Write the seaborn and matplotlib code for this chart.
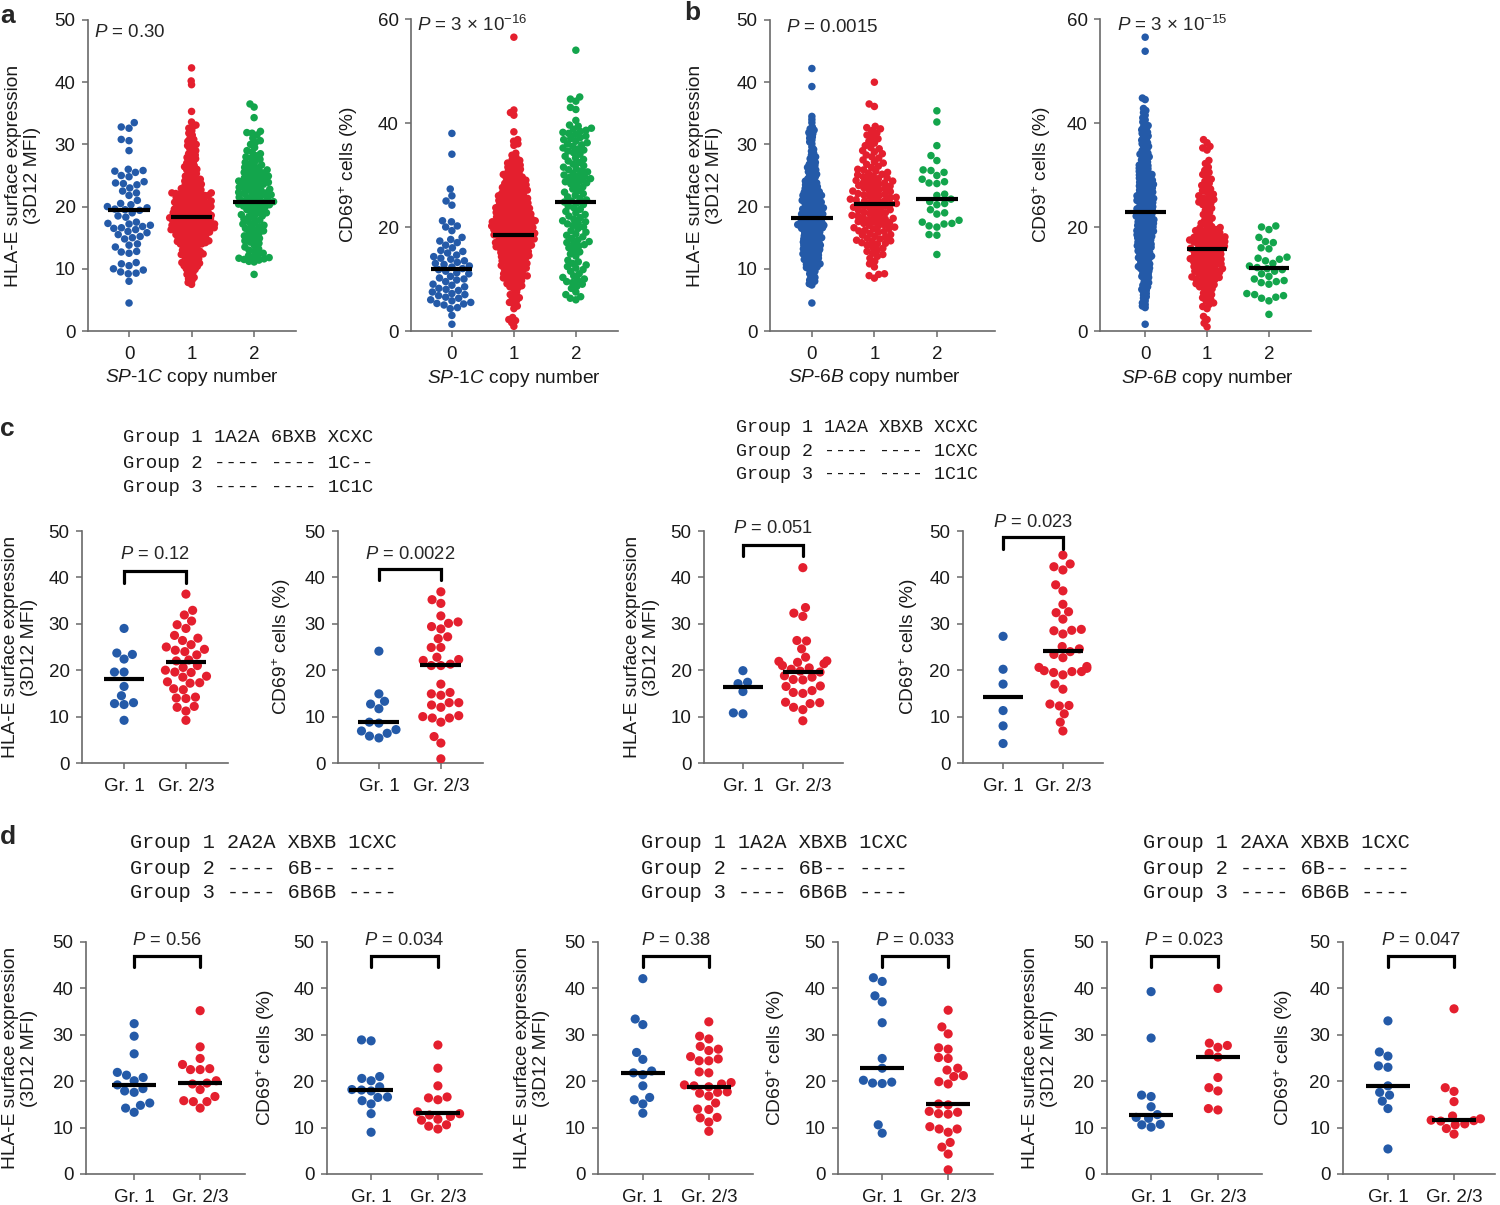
#!/usr/bin/env python3
"""HLA-E surface expression and CD69+ cells by SP copy number and allele group."""

import matplotlib

matplotlib.use("Agg")
import matplotlib.pyplot as plt
import matplotlib.transforms as mtransforms
import numpy as np
import pandas as pd
import seaborn as sns


FIG_W, FIG_H = 1500, 1205
BLUE = "#245aa8"
RED = "#e41f2e"
GREEN = "#13a54c"
AXIS_GREY = "#6a6a6a"

HLA_LABEL = "HLA-E surface expression\n(3D12 MFI)"
CD69_LABEL = "CD69$^{+}$ cells (%)"
COPY_TICKS = ["0", "1", "2"]
GROUP_TICKS = ["Gr. 1", "Gr. 2/3"]

# ---------------- panel a : SP-1C copy number ----------------
A_HLA_0 = [33.5, 32.8, 32.6, 30.8, 30.6, 29.0, 26.0, 25.8, 25.7, 25.5, 25.0, 24.8, 24.0, 23.8,
           23.7, 23.5, 23.0, 22.5, 22.2, 21.8, 21.0, 20.5, 20.3, 20.0, 19.8, 19.6, 19.5, 19.4,
           19.0, 18.5, 18.3, 17.5, 17.3, 17.2, 17.0, 16.8, 16.6, 16.5, 16.3, 16.0, 15.8, 15.5,
           15.2, 15.0, 14.8, 14.0, 13.8, 13.5, 12.8, 12.7, 12.5, 11.0, 10.8, 10.5, 10.0, 9.8,
           9.5, 9.3, 9.2, 8.0, 4.5]
A_HLA_1 = [42.3, 40.2, 39.6, 35.3, 33.6, 33.1, 32.8, 32.6, 32.2, 31.8, 31.5, 31.0, 30.8, 30.5,
           30.3, 30.0, 29.8, 29.6, 29.3, 29.0, 28.8, 28.5, 28.3, 28.1, 27.9, 27.7, 27.5, 27.2,
           27.0, 26.8, 26.6, 26.4, 26.2, 26.0, 25.9, 25.7, 25.5, 25.3, 25.1, 24.9, 24.8, 24.6,
           24.4, 24.3, 24.1, 24.0, 23.9, 23.8, 23.6, 23.5, 23.4, 23.2, 23.1, 23.0, 22.9, 22.8,
           22.7, 22.6, 22.5, 22.4, 22.3, 22.2, 22.2, 22.1, 22.0, 22.0, 21.9, 21.9, 21.8, 21.8,
           21.7, 21.6, 21.5, 21.4, 21.3, 21.2, 21.1, 21.0, 20.9, 20.9, 20.8, 20.7, 20.6, 20.6,
           20.5, 20.4, 20.4, 20.3, 20.2, 20.2, 20.1, 20.0, 20.0, 20.8, 21.5, 21.1, 19.9, 19.9,
           19.8, 19.7, 19.7, 19.6, 19.5, 19.4, 19.4, 19.3, 19.2, 19.1, 19.0, 19.0, 18.9, 18.8,
           18.8, 18.7, 18.6, 18.6, 18.5, 18.4, 18.4, 18.3, 18.2, 18.2, 18.1, 18.0, 18.0, 19.5,
           19.2, 18.9, 18.5, 18.3, 18.1, 17.9, 17.9, 17.8, 17.8, 17.7, 17.6, 17.6, 17.5, 17.4,
           17.4, 17.3, 17.2, 17.2, 17.1, 17.0, 17.0, 16.9, 16.9, 16.8, 16.7, 16.7, 16.6, 16.5,
           16.5, 16.4, 16.3, 16.3, 16.2, 16.1, 16.1, 16.0, 16.0, 17.5, 17.1, 16.8, 16.6, 16.4,
           16.2, 15.9, 15.8, 15.8, 15.7, 15.6, 15.5, 15.5, 15.4, 15.3, 15.2, 15.1, 15.0, 15.0,
           14.9, 14.8, 14.7, 14.6, 14.5, 14.5, 14.4, 14.3, 14.2, 14.1, 14.0, 14.0, 15.6, 15.2,
           14.8, 14.4, 14.2, 13.9, 13.8, 13.6, 13.5, 13.3, 13.2, 13.0, 12.9, 12.8, 12.6, 12.5,
           12.4, 12.3, 12.2, 12.1, 12.0, 13.7, 13.1, 12.7, 12.3, 11.9, 11.7, 11.5, 11.3, 11.1,
           11.0, 10.8, 10.7, 10.5, 10.4, 10.2, 10.0, 11.6, 10.9, 9.9, 9.6, 9.4, 9.1, 8.9, 8.6,
           8.4, 8.1, 7.8, 7.5]
A_HLA_2 = [36.5, 36.0, 34.3, 32.1, 31.9, 31.8, 31.5, 31.0, 30.6, 30.3, 30.0, 29.5, 29.0, 28.8,
           28.5, 28.2, 28.0, 27.8, 27.6, 27.3, 27.1, 26.9, 26.7, 26.5, 26.3, 26.1, 26.0, 25.9,
           25.7, 25.5, 25.4, 25.2, 25.0, 24.9, 24.8, 24.6, 24.5, 24.3, 24.2, 24.1, 24.0, 23.9,
           23.8, 23.6, 23.5, 23.4, 23.2, 23.1, 23.0, 22.8, 22.7, 22.6, 22.5, 22.3, 22.2, 22.1,
           22.0, 21.9, 21.8, 21.7, 21.5, 21.4, 21.3, 21.2, 21.0, 20.9, 20.8, 20.7, 20.6, 20.5,
           20.4, 20.3, 20.2, 20.1, 20.0, 19.9, 19.7, 19.5, 19.4, 19.2, 19.0, 18.9, 18.7, 18.5,
           18.4, 18.2, 18.0, 17.8, 17.6, 17.4, 17.2, 17.0, 16.9, 16.7, 16.5, 16.3, 16.1, 15.9,
           15.7, 15.5, 15.3, 15.1, 14.9, 14.7, 14.5, 14.3, 14.1, 13.8, 13.5, 13.2, 13.0, 12.8,
           12.5, 12.3, 12.1, 11.9, 11.8, 11.7, 11.6, 11.5, 11.4, 11.2, 11.1, 9.1]
A_HLA_CENTERS = [19.5, 18.4, 20.7]

A_CD69_0 = [38.0, 34.0, 27.3, 26.0, 25.0, 24.2, 21.2, 21.0, 20.2, 20.0, 19.3, 18.0, 17.6, 17.3,
            17.0, 16.5, 16.0, 15.5, 15.3, 15.0, 14.6, 14.3, 14.0, 13.8, 13.5, 13.2, 13.0, 12.8,
            12.5, 12.3, 12.0, 11.8, 11.5, 11.2, 11.0, 10.5, 10.2, 10.0, 9.8, 9.5, 9.0, 8.8,
            8.5, 8.2, 8.0, 7.8, 7.5, 7.2, 7.0, 6.8, 6.5, 6.3, 6.0, 5.8, 5.5, 5.3, 5.2, 5.0,
            4.5, 4.3, 3.0, 1.3]
A_CD69_1 = [56.5, 42.5, 42.0, 41.5, 38.3, 36.8, 36.5, 36.0, 35.7, 34.2, 33.8, 33.4, 33.0, 32.8,
            32.5, 32.3, 32.1, 31.9, 31.7, 31.5, 31.3, 31.1, 30.9, 30.7, 30.5, 30.3, 30.1, 29.9,
            29.8, 29.6, 29.5, 29.3, 29.2, 29.0, 28.9, 28.7, 28.6, 28.4, 28.3, 28.1, 28.0, 27.9,
            27.8, 27.6, 27.5, 27.4, 27.2, 27.1, 27.0, 26.9, 26.7, 26.6, 26.5, 26.4, 26.2, 26.1,
            26.0, 25.9, 25.8, 25.7, 25.6, 25.5, 25.4, 25.3, 25.2, 25.1, 25.0, 24.9, 24.8, 24.7,
            24.6, 24.5, 24.4, 24.3, 24.2, 24.1, 24.0, 23.9, 23.8, 23.7, 23.6, 23.5, 23.4, 23.3,
            23.2, 23.1, 23.0, 22.9, 22.8, 22.7, 22.6, 22.5, 22.4, 22.3, 22.2, 22.1, 22.0, 23.5,
            22.5, 21.9, 21.85, 21.8, 21.7, 21.6, 21.5, 21.4, 21.3, 21.2, 21.1, 21.0, 20.95, 20.9,
            20.8, 20.7, 20.6, 20.5, 20.4, 20.3, 20.2, 20.1, 20.0, 21.5, 21.0, 20.5, 20.2, 19.9,
            19.8, 19.7, 19.6, 19.5, 19.4, 19.3, 19.2, 19.1, 19.0, 18.9, 18.8, 18.7, 18.6, 18.5,
            18.4, 18.3, 18.2, 18.1, 18.0, 19.5, 19.0, 18.5, 18.2, 19.8, 18.8, 17.9, 17.8, 17.7,
            17.6, 17.5, 17.4, 17.3, 17.2, 17.1, 17.0, 16.9, 16.8, 16.7, 16.6, 16.5, 16.4, 16.3,
            16.2, 16.1, 16.0, 17.5, 17.0, 16.5, 16.2, 15.9, 15.8, 15.7, 15.6, 15.5, 15.4, 15.3,
            15.2, 15.1, 15.0, 14.9, 14.8, 14.7, 14.6, 14.5, 14.4, 14.3, 14.2, 14.1, 14.0, 13.9,
            13.8, 13.6, 13.5, 13.4, 13.2, 13.1, 13.0, 12.9, 12.8, 12.6, 12.5, 12.4, 12.2, 12.1,
            12.0, 11.9, 11.7, 11.6, 11.4, 11.2, 11.0, 10.9, 10.8, 10.6, 10.5, 10.4, 10.3, 10.2,
            10.0, 9.9, 9.7, 9.5, 9.3, 9.1, 8.9, 8.7, 8.5, 8.3, 8.1, 7.5, 7.0, 6.8, 6.4, 6.1,
            5.8, 5.5, 5.2, 4.8, 4.3, 2.6, 2.2, 2.0, 1.6, 0.9]
A_CD69_2 = [54.0, 45.0, 44.6, 44.2, 43.0, 42.6, 40.5, 39.6, 39.4, 39.0, 38.8, 38.6, 38.4, 38.2,
            38.0, 37.8, 37.5, 37.2, 37.0, 36.8, 36.5, 36.2, 36.0, 35.8, 35.5, 35.2, 35.0, 34.8,
            34.6, 34.3, 34.0, 33.6, 33.3, 33.0, 32.7, 32.4, 32.1, 31.8, 31.5, 31.2, 31.0, 30.8,
            30.6, 30.3, 30.0, 29.9, 29.7, 29.5, 29.3, 29.1, 28.9, 28.7, 28.5, 28.3, 28.1, 27.7,
            27.3, 27.0, 26.7, 26.4, 26.1, 25.8, 25.5, 25.2, 25.0, 24.8, 24.6, 24.3, 24.0, 23.7,
            23.4, 23.0, 22.7, 22.4, 22.1, 21.8, 21.5, 21.2, 21.0, 20.8, 20.6, 20.3, 20.0, 19.7,
            19.3, 19.0, 18.7, 18.4, 18.1, 17.8, 17.5, 17.2, 17.0, 16.8, 16.6, 16.3, 16.0, 15.6,
            15.2, 14.8, 14.4, 13.6, 13.3, 13.0, 12.7, 12.4, 12.1, 11.8, 11.5, 11.0, 10.6, 10.3,
            10.0, 9.8, 9.5, 9.3, 9.0, 8.6, 8.2, 7.5, 7.0, 6.6, 6.3, 6.0]
A_CD69_CENTERS = [11.9, 18.5, 24.8]

# ---------------- panel b : SP-6B copy number ----------------
B_HLA_0 = [42.2, 39.3, 34.5, 34.0, 33.5, 32.8, 32.5, 32.3, 32.1, 31.9, 31.7, 31.5, 31.2, 31.0,
           30.7, 30.4, 30.1, 29.6, 29.2, 28.9, 28.6, 28.3, 28.0, 27.9, 27.7, 27.5, 27.3, 27.1,
           26.9, 26.8, 26.6, 26.5, 26.3, 26.2, 26.0, 25.9, 25.8, 25.6, 25.5, 25.4, 25.2, 25.1,
           25.0, 24.8, 24.7, 24.5, 24.4, 24.3, 24.1, 24.0, 23.9, 23.8, 23.7, 23.6, 23.5, 23.4,
           23.3, 23.2, 23.1, 23.0, 22.9, 22.8, 22.7, 22.6, 22.5, 22.4, 22.3, 22.2, 22.1, 22.0,
           22.5, 22.2, 21.9, 21.8, 21.7, 21.6, 21.5, 21.4, 21.3, 21.2, 21.1, 21.0, 20.9, 20.8,
           20.7, 20.6, 20.5, 20.4, 20.3, 20.2, 20.1, 20.0, 21.5, 21.0, 20.5, 20.2, 21.8, 20.8,
           19.9, 19.8, 19.7, 19.6, 19.5, 19.4, 19.3, 19.2, 19.1, 19.0, 18.9, 18.8, 18.7, 18.6,
           18.5, 18.4, 18.3, 18.2, 18.1, 18.0, 19.8, 19.5, 19.2, 19.0, 18.8, 18.5, 18.3, 18.1,
           19.6, 18.6, 17.9, 17.8, 17.7, 17.6, 17.5, 17.4, 17.3, 17.2, 17.1, 17.0, 16.9, 16.8,
           16.7, 16.6, 16.5, 16.4, 16.3, 16.2, 16.1, 16.0, 17.9, 17.6, 17.3, 17.0, 16.8, 16.5,
           16.2, 17.8, 17.4, 17.1, 16.9, 16.6, 16.3, 17.2, 16.7, 15.9, 15.8, 15.7, 15.6, 15.5,
           15.4, 15.3, 15.2, 15.1, 15.0, 14.9, 14.8, 14.7, 14.6, 14.5, 14.4, 14.3, 14.2, 14.1,
           14.0, 15.8, 15.5, 15.2, 15.0, 14.8, 14.5, 14.2, 14.0, 13.9, 13.8, 13.7, 13.6, 13.5,
           13.4, 13.3, 13.2, 13.1, 13.0, 12.9, 12.8, 12.7, 12.6, 12.5, 12.4, 12.3, 12.2, 12.1,
           12.0, 13.5, 13.0, 12.5, 12.2, 13.8, 11.9, 11.8, 11.7, 11.6, 11.5, 11.4, 11.3, 11.2,
           11.1, 11.0, 10.9, 10.8, 10.7, 10.6, 10.5, 10.4, 10.3, 10.2, 10.1, 10.0, 11.5, 10.8,
           9.9, 9.6, 9.4, 9.2, 9.0, 8.8, 8.6, 8.4, 8.2, 8.0, 7.9, 7.6, 7.4, 4.5]
B_HLA_1 = [40.0, 36.5, 36.1, 32.9, 32.7, 32.5, 32.2, 31.8, 31.5, 31.2, 30.9, 30.5, 30.2, 29.8,
           29.5, 29.3, 29.0, 28.8, 28.5, 28.3, 28.0, 27.8, 27.5, 27.2, 27.0, 26.8, 26.5, 26.3,
           26.0, 25.9, 25.7, 25.5, 25.4, 25.2, 25.1, 24.9, 24.8, 24.6, 24.5, 24.4, 24.2, 24.1,
           24.0, 23.9, 23.8, 23.6, 23.5, 23.4, 23.3, 23.1, 23.0, 22.9, 22.7, 22.6, 22.5, 22.4,
           22.2, 22.1, 22.0, 21.9, 21.8, 21.7, 21.5, 21.4, 21.3, 21.2, 21.1, 21.0, 20.9, 20.8,
           20.7, 20.5, 20.4, 20.3, 20.2, 20.1, 20.0, 19.9, 19.8, 19.6, 19.5, 19.4, 19.3, 19.1,
           19.0, 18.9, 18.7, 18.6, 18.5, 18.4, 18.2, 18.1, 18.0, 17.9, 17.8, 17.6, 17.5, 17.4,
           17.3, 17.1, 17.0, 16.9, 16.7, 16.6, 16.5, 16.4, 16.2, 16.1, 16.0, 15.9, 15.7, 15.5,
           15.4, 15.2, 15.1, 14.9, 14.8, 14.6, 14.5, 14.4, 14.2, 14.1, 14.0, 13.8, 13.5, 13.3,
           13.0, 12.8, 12.5, 12.3, 12.0, 11.7, 11.2, 10.8, 10.3, 9.2, 9.1, 8.9, 8.5]
B_HLA_2 = [35.4, 33.6, 29.8, 28.2, 27.4, 25.9, 25.8, 25.5, 25.0, 24.4, 24.0, 23.8, 23.7, 22.0,
           21.8, 21.2, 20.8, 20.5, 20.3, 19.5, 19.0, 18.8, 17.8, 17.5, 17.3, 17.2, 16.9, 16.7,
           15.5, 15.4, 12.3]
B_HLA_CENTERS = [18.1, 20.4, 21.2]

B_CD69_0 = [56.5, 53.8, 44.8, 44.5, 42.8, 42.4, 42.0, 41.5, 41.0, 40.6, 40.2, 39.8, 39.5, 39.2,
            39.0, 38.7, 38.5, 38.2, 38.0, 37.8, 37.5, 37.2, 37.0, 36.7, 36.5, 36.2, 36.0, 35.8,
            35.5, 35.2, 35.0, 34.7, 34.5, 34.2, 34.0, 33.9, 33.7, 33.5, 33.3, 33.1, 32.9, 32.7,
            32.5, 32.3, 32.1, 31.9, 31.8, 31.6, 31.5, 31.3, 31.2, 31.0, 30.9, 30.7, 30.6, 30.4,
            30.3, 30.1, 30.0, 29.9, 29.8, 29.6, 29.5, 29.4, 29.2, 29.1, 29.0, 28.9, 28.7, 28.6,
            28.5, 28.4, 28.2, 28.1, 28.0, 27.9, 27.8, 27.6, 27.5, 27.4, 27.2, 27.1, 27.0, 26.9,
            26.7, 26.6, 26.5, 26.4, 26.2, 26.1, 26.0, 25.9, 25.8, 25.7, 25.6, 25.5, 25.4, 25.3,
            25.2, 25.1, 25.0, 24.9, 24.8, 24.7, 24.5, 24.4, 24.3, 24.2, 24.0, 23.9, 23.8, 23.7,
            23.6, 23.5, 23.4, 23.3, 23.2, 23.1, 23.0, 22.9, 22.8, 22.7, 22.6, 22.5, 22.4, 22.3,
            22.2, 22.1, 22.0, 21.9, 21.8, 21.7, 21.6, 21.5, 21.4, 21.3, 21.2, 21.1, 21.0, 20.9,
            20.8, 20.7, 20.6, 20.5, 20.4, 20.3, 20.2, 20.1, 20.0, 19.9, 19.8, 19.7, 19.5, 19.4,
            19.3, 19.2, 19.1, 19.0, 18.9, 18.8, 18.7, 18.5, 18.4, 18.3, 18.2, 18.1, 18.0, 17.9,
            17.8, 17.6, 17.5, 17.4, 17.2, 17.1, 17.0, 16.9, 16.7, 16.6, 16.5, 16.4, 16.2, 16.1,
            16.0, 15.9, 15.7, 15.6, 15.4, 15.3, 15.1, 15.0, 14.9, 14.7, 14.6, 14.4, 14.3, 14.1,
            14.0, 13.9, 13.7, 13.5, 13.3, 13.1, 12.9, 12.8, 12.6, 12.4, 12.3, 12.1, 12.0, 11.9,
            11.7, 11.5, 11.3, 11.1, 10.9, 10.7, 10.5, 10.3, 10.1, 9.8, 9.5, 9.3, 9.0, 8.8, 8.5,
            8.3, 8.0, 7.8, 7.5, 7.2, 6.9, 6.6, 6.3, 5.8, 5.4, 5.1, 4.8, 4.5, 1.3]
B_CD69_1 = [36.8, 36.2, 35.5, 35.2, 34.8, 32.8, 32.2, 31.5, 30.9, 30.5, 30.1, 29.7, 29.2, 28.8,
            28.4, 28.0, 27.7, 27.3, 27.0, 26.7, 26.3, 26.0, 25.9, 25.6, 25.3, 25.1, 24.8, 24.6,
            24.3, 24.0, 23.6, 23.2, 22.8, 22.4, 22.0, 21.7, 21.3, 21.0, 20.7, 20.4, 20.1, 19.9,
            19.8, 19.6, 19.5, 19.3, 19.2, 19.0, 18.9, 18.7, 18.6, 18.4, 18.3, 18.1, 18.0, 17.9,
            17.8, 17.7, 17.6, 17.5, 17.4, 17.3, 17.2, 17.1, 17.0, 16.9, 16.8, 16.7, 16.5, 16.4,
            16.3, 16.1, 16.0, 15.9, 15.8, 15.7, 15.6, 15.5, 15.3, 15.2, 15.1, 14.9, 14.8, 14.7,
            14.5, 14.4, 14.3, 14.1, 14.0, 13.9, 13.8, 13.7, 13.6, 13.4, 13.3, 13.2, 13.1, 12.9,
            12.8, 12.7, 12.5, 12.4, 12.3, 12.1, 12.0, 11.9, 11.8, 11.6, 11.5, 11.3, 11.2, 11.0,
            10.9, 10.7, 10.6, 10.4, 10.3, 10.1, 10.0, 9.9, 9.7, 9.5, 9.3, 9.1, 8.9, 8.7, 8.5,
            8.3, 8.1, 7.7, 7.3, 7.0, 6.7, 6.4, 6.1, 5.8, 5.4, 5.1, 4.7, 4.3, 2.8, 2.2, 1.5, 0.8]
B_CD69_2 = [20.2, 20.0, 19.5, 18.0, 17.2, 17.0, 16.0, 15.8, 14.2, 14.0, 13.8, 13.5, 13.0, 12.5,
            12.2, 12.0, 11.8, 11.5, 11.0, 10.5, 10.0, 9.7, 9.5, 9.3, 9.0, 7.2, 7.0, 6.8, 6.5,
            6.3, 5.8, 3.2]
B_CD69_CENTERS = [22.9, 15.7, 12.2]

# ---------------- panel c ----------------
C1_HLA_G1 = [29.0, 23.7, 23.4, 22.4, 19.6, 19.6, 16.5, 14.5, 13.0, 12.6, 12.8, 9.2]
C1_HLA_G23 = [36.4, 32.9, 31.9, 30.6, 29.8, 29.0, 27.5, 26.9, 26.4, 25.5, 25.0, 24.5, 24.3,
              24.0, 23.3, 22.2, 22.0, 21.0, 20.6, 20.0, 19.6, 19.5, 18.7, 18.5, 17.5, 17.3,
              17.2, 16.0, 15.8, 14.2, 14.0, 13.9, 12.2, 12.0, 11.2, 9.2]
C1_HLA_CENTERS = [18.0, 21.8]
C1_CD69_G1 = [24.1, 14.9, 13.3, 12.7, 11.7, 8.8, 8.6, 7.2, 6.9, 6.4, 5.8, 5.4]
C1_CD69_G23 = [36.9, 35.2, 34.4, 31.7, 30.4, 30.1, 29.4, 28.9, 27.2, 26.8, 24.9, 24.9, 22.8,
               22.3, 22.1, 21.3, 21.0, 21.0, 17.0, 15.2, 14.9, 14.6, 13.0, 13.0, 12.5, 12.0,
               10.2, 10.0, 9.7, 9.7, 8.8, 5.7, 4.3, 0.9]
C1_CD69_CENTERS = [8.8, 21.1]

C2_HLA_G1 = [19.9, 17.4, 17.1, 15.4, 10.6, 10.8]
C2_HLA_G23 = [42.1, 33.5, 32.3, 31.6, 26.4, 26.3, 24.6, 22.8, 22.0, 21.9, 21.7, 21.4, 21.0,
              20.5, 20.2, 19.8, 19.6, 18.8, 18.5, 18.0, 17.9, 16.6, 16.5, 15.6, 15.2, 15.0,
              13.1, 13.0, 12.8, 12.0, 11.5, 9.1]
C2_HLA_CENTERS = [16.3, 19.7]
C2_CD69_G1 = [27.3, 20.2, 17.0, 11.3, 8.0, 4.2]
C2_CD69_G23 = [44.8, 42.9, 42.3, 41.6, 38.4, 37.1, 34.2, 32.6, 32.4, 31.0, 28.8, 28.6, 28.5,
               27.8, 25.1, 24.6, 24.0, 23.4, 22.7, 20.8, 20.6, 20.4, 19.9, 19.7, 19.7, 19.5,
               19.0, 17.0, 15.9, 12.7, 12.4, 12.3, 10.6, 8.8, 6.9]
C2_CD69_CENTERS = [14.2, 24.1]

# ---------------- panel d ----------------
D1_HLA_G1 = [32.4, 29.7, 25.9, 21.9, 21.3, 20.8, 20.1, 19.2, 18.4, 17.9, 17.6, 15.3, 14.8,
             14.2, 13.3]
D1_HLA_G23 = [35.2, 27.4, 24.9, 23.6, 22.7, 22.5, 22.5, 20.1, 19.6, 19.4, 18.2, 16.7, 15.8,
              15.6, 15.6, 14.2]
D1_HLA_CENTERS = [19.2, 19.7]
D1_CD69_G1 = [28.9, 28.7, 21.0, 20.6, 20.1, 18.8, 18.2, 18.1, 17.9, 16.5, 16.6, 15.8, 15.1,
              13.0, 9.0]
D1_CD69_G23 = [27.8, 22.8, 19.0, 16.6, 16.4, 16.0, 13.4, 13.0, 12.7, 12.4, 11.8, 11.6, 10.6,
               10.3, 9.7]
D1_CD69_CENTERS = [18.0, 13.1]

D2_HLA_G1 = [42.1, 33.4, 32.2, 26.2, 24.7, 22.2, 21.8, 21.4, 19.0, 16.5, 16.0, 15.1, 13.1]
D2_HLA_G23 = [32.8, 29.7, 29.1, 27.5, 26.9, 26.6, 25.3, 24.8, 24.4, 24.4, 22.0, 21.8, 19.7,
              19.4, 19.2, 19.0, 18.8, 17.7, 17.6, 17.4, 16.8, 15.3, 14.0, 13.9, 12.2, 12.1,
              11.2, 9.2]
D2_HLA_CENTERS = [21.7, 18.8]
D2_CD69_G1 = [42.3, 41.5, 38.4, 37.1, 32.6, 24.9, 22.8, 20.2, 19.8, 19.6, 19.5, 10.6, 8.8]
D2_CD69_G23 = [35.3, 31.7, 30.2, 27.2, 26.9, 25.1, 24.9, 22.8, 22.4, 21.2, 21.0, 19.9, 19.4,
               15.1, 14.9, 13.5, 13.3, 13.0, 12.9, 10.2, 9.7, 9.7, 9.0, 6.8, 5.8, 4.3, 0.9]
D2_CD69_CENTERS = [22.8, 15.0]

D3_HLA_G1 = [39.3, 29.3, 17.0, 16.7, 14.5, 12.8, 12.2, 12.0, 10.7, 10.6, 10.1]
D3_HLA_G23 = [40.0, 28.2, 27.7, 27.3, 26.0, 25.2, 20.8, 18.6, 17.9, 14.1, 13.8]
D3_HLA_CENTERS = [12.7, 25.2]
D3_CD69_G1 = [33.0, 26.3, 25.4, 23.3, 23.0, 19.0, 17.6, 17.0, 15.7, 14.1, 5.4]
D3_CD69_G23 = [35.6, 18.6, 17.8, 15.6, 12.5, 11.9, 11.6, 11.5, 11.4, 10.8, 10.6, 9.8, 8.6]
D3_CD69_CENTERS = [18.9, 11.7]

GENOTYPE_C1 = ["Group 1 1A2A 6BXB XCXC", "Group 2 ---- ---- 1C--", "Group 3 ---- ---- 1C1C"]
GENOTYPE_C2 = ["Group 1 1A2A XBXB XCXC", "Group 2 ---- ---- 1CXC", "Group 3 ---- ---- 1C1C"]
GENOTYPE_D1 = ["Group 1 2A2A XBXB 1CXC", "Group 2 ---- 6B-- ----", "Group 3 ---- 6B6B ----"]
GENOTYPE_D2 = ["Group 1 1A2A XBXB 1CXC", "Group 2 ---- 6B-- ----", "Group 3 ---- 6B6B ----"]
GENOTYPE_D3 = ["Group 1 2AXA XBXB 1CXC", "Group 2 ---- 6B-- ----", "Group 3 ---- 6B6B ----"]


def add_axes_px(fig, left, top, right, bottom):
    return fig.add_axes([left / FIG_W, 1 - bottom / FIG_H,
                         (right - left) / FIG_W, (bottom - top) / FIG_H])


def draw_swarm(ax, groups, ticks, colors, centers, size):
    df = pd.DataFrame({
        "group": np.repeat(ticks, [len(g) for g in groups]),
        "value": np.concatenate([np.asarray(g, dtype=float) for g in groups]),
    })
    n_before = len(ax.collections)
    sns.swarmplot(data=df, x="group", y="value", hue="group", order=ticks, hue_order=ticks,
                  palette=colors, size=size, linewidth=0, legend=False, ax=ax, zorder=3)
    swarms = list(ax.collections[n_before:])
    pos = np.arange(len(ticks))
    ax.hlines(centers, pos - 0.33, pos + 0.33, colors="black", linewidth=3.0, zorder=5)
    return swarms


def style_axes(ax, box, xlim, ymax, ystep, ticks, ylabel, ylabel_px):
    left, _, right, _ = box
    ax.set_xlim(*xlim)
    ax.set_ylim(0, ymax)
    ax.set_yticks(np.arange(0, ymax + 1, ystep))
    ax.set_xticks(range(len(ticks)))
    ax.set_xticklabels(ticks)
    for side in ("top", "right"):
        ax.spines[side].set_visible(False)
    for side in ("left", "bottom"):
        ax.spines[side].set_color(AXIS_GREY)
        ax.spines[side].set_linewidth(1.2)
    ax.tick_params(length=4, width=1.1, color=AXIS_GREY, labelsize=13.5, pad=5,
                   labelcolor="#1a1a1a")
    ax.tick_params(axis="x", pad=6.5)
    ax.set_xlabel("")
    ax.set_ylabel(ylabel, fontsize=13.8, linespacing=1.15, color="#1a1a1a")
    ax.yaxis.set_label_coords((ylabel_px - left) / (right - left), 0.5)


def main():
    sns.set_style("ticks")
    plt.rcParams["font.family"] = ["Liberation Sans", "DejaVu Sans"]
    plt.rcParams["mathtext.fontset"] = "custom"
    plt.rcParams["mathtext.rm"] = "Liberation Sans"
    plt.rcParams["mathtext.it"] = "Liberation Sans:italic"
    plt.rcParams["mathtext.bf"] = "Liberation Sans:bold"

    fig = plt.figure(figsize=(FIG_W / 100, FIG_H / 100), dpi=100)
    palette3 = [BLUE, RED, GREEN]
    palette2 = [BLUE, RED]

    # rows a and b: large cohorts, dots overlap as in the original scatter
    top_panels = [
        dict(box=(88, 20, 296, 331), xlim=(-0.656, 2.67), ymax=50, ystep=10,
             groups=[A_HLA_0, A_HLA_1, A_HLA_2], centers=A_HLA_CENTERS, label=HLA_LABEL,
             label_px=41, pval=r"$P$ = 0.30", ppos=(0.03, 0.946),
             xlabel=r"$\mathit{SP}$-$\mathit{1C}$ copy number", layout=[5.4, 2.7, 3.6]),
        dict(box=(411, 19, 618, 331), xlim=(-0.66, 2.68), ymax=60, ystep=20,
             groups=[A_CD69_0, A_CD69_1, A_CD69_2], centers=A_CD69_CENTERS, label=CD69_LABEL,
             label_px=360, pval=r"$P$ = 3 × 10$^{-16}$", ppos=(0.03, 0.963),
             xlabel=r"$\mathit{SP}$-$\mathit{1C}$ copy number", layout=[5.0, 3.0, 4.0]),
        dict(box=(770, 20, 995, 331), xlim=(-0.67, 2.93), ymax=50, ystep=10,
             groups=[B_HLA_0, B_HLA_1, B_HLA_2], centers=B_HLA_CENTERS, label=HLA_LABEL,
             label_px=723, pval=r"$P$ = 0.0015", ppos=(0.07, 0.960),
             xlabel=r"$\mathit{SP}$-$\mathit{6B}$ copy number", layout=[2.0, 4.0, 5.4]),
        dict(box=(1100, 19, 1311, 331), xlim=(-0.73, 2.68), ymax=60, ystep=20,
             groups=[B_CD69_0, B_CD69_1, B_CD69_2], centers=B_CD69_CENTERS, label=CD69_LABEL,
             label_px=1053, pval=r"$P$ = 3 × 10$^{-15}$", ppos=(0.08, 0.962),
             xlabel=r"$\mathit{SP}$-$\mathit{6B}$ copy number", layout=[2.2, 3.3, 5.4]),
    ]

    dense_swarms = []
    for spec in top_panels:
        ax = add_axes_px(fig, *spec["box"])
        swarms = draw_swarm(ax, spec["groups"], COPY_TICKS, palette3, spec["centers"], 5.4)
        for coll, layout in zip(swarms, spec["layout"]):
            coll.set_sizes([layout ** 2])
        dense_swarms.extend(swarms)
        style_axes(ax, spec["box"], spec["xlim"], spec["ymax"], spec["ystep"], COPY_TICKS,
                   spec["label"], spec["label_px"])
        ax.text(*spec["ppos"], spec["pval"], transform=ax.transAxes, ha="left",
                va="baseline", fontsize=13.5)
        ax.set_xlabel(spec["xlabel"], fontsize=13.8, color="#1a1a1a")
        ax.xaxis.label.set_va("center")
        ax.xaxis.set_label_coords(
            1, -0.151, transform=mtransforms.blended_transform_factory(ax.transData, ax.transAxes))

    # rows c and d: allele-group comparisons
    bottom_panels = [
        dict(box=(82, 531, 228, 763), xlim=(-0.68, 1.68), groups=[C1_HLA_G1, C1_HLA_G23],
             centers=C1_HLA_CENTERS, label=HLA_LABEL, label_px=38, pval="0.12",
             bracket=(38.8, 41.4), ptext=44.0),
        dict(box=(338, 531, 483, 763), xlim=(-0.66, 1.68), groups=[C1_CD69_G1, C1_CD69_G23],
             centers=C1_CD69_CENTERS, label=CD69_LABEL, label_px=293, pval="0.0022",
             bracket=(39.5, 41.8), ptext=43.9),
        dict(box=(704, 531, 843, 763), xlim=(-0.65, 1.67), groups=[C2_HLA_G1, C2_HLA_G23],
             centers=C2_HLA_CENTERS, label=HLA_LABEL, label_px=660, pval="0.051",
             bracket=(44.6, 47.0), ptext=49.5),
        dict(box=(963, 531, 1103, 763), xlim=(-0.67, 1.67), groups=[C2_CD69_G1, C2_CD69_G23],
             centers=C2_CD69_CENTERS, label=CD69_LABEL, label_px=920, pval="0.023",
             bracket=(46.1, 48.6), ptext=50.9),
        dict(box=(86, 942, 245, 1174), xlim=(-0.73, 1.68), groups=[D1_HLA_G1, D1_HLA_G23],
             centers=D1_HLA_CENTERS, label=HLA_LABEL, label_px=38, pval="0.56",
             bracket=(44.6, 47.0), ptext=49.4),
        dict(box=(327, 942, 482, 1174), xlim=(-0.66, 1.66), groups=[D1_CD69_G1, D1_CD69_G23],
             centers=D1_CD69_CENTERS, label=CD69_LABEL, label_px=277, pval="0.034",
             bracket=(44.6, 47.0), ptext=49.4),
        dict(box=(598, 942, 753, 1174), xlim=(-0.68, 1.67), groups=[D2_HLA_G1, D2_HLA_G23],
             centers=D2_HLA_CENTERS, label=HLA_LABEL, label_px=550, pval="0.38",
             bracket=(44.6, 47.0), ptext=49.4),
        dict(box=(838, 942, 993, 1174), xlim=(-0.67, 1.68), groups=[D2_CD69_G1, D2_CD69_G23],
             centers=D2_CD69_CENTERS, label=CD69_LABEL, label_px=787, pval="0.033",
             bracket=(44.6, 47.0), ptext=49.4),
        dict(box=(1107, 942, 1262, 1174), xlim=(-0.66, 1.66), groups=[D3_HLA_G1, D3_HLA_G23],
             centers=D3_HLA_CENTERS, label=HLA_LABEL, label_px=1058, pval="0.023",
             bracket=(44.6, 47.0), ptext=49.4),
        dict(box=(1343, 942, 1495, 1174), xlim=(-0.68, 1.62), groups=[D3_CD69_G1, D3_CD69_G23],
             centers=D3_CD69_CENTERS, label=CD69_LABEL, label_px=1295, pval="0.047",
             bracket=(44.6, 47.0), ptext=49.4),
    ]

    for spec in bottom_panels:
        ax = add_axes_px(fig, *spec["box"])
        draw_swarm(ax, spec["groups"], GROUP_TICKS, palette2, spec["centers"], 6.6)
        style_axes(ax, spec["box"], spec["xlim"], 50, 10, GROUP_TICKS,
                   spec["label"], spec["label_px"])
        lo, hi = spec["bracket"]
        ax.plot([0, 0, 1, 1], [lo, hi, hi, lo], color="black", linewidth=2.3,
                solid_joinstyle="miter", clip_on=False, zorder=6)
        ax.text(0.5, spec["ptext"], r"$P$ = " + spec["pval"], ha="center", va="baseline",
                fontsize=13.2)

    # genotype legends above panels c and d
    for lines, x_px, y_px, size in [
        (GENOTYPE_C1, 123, [438, 463, 487], 13.7),
        (GENOTYPE_C2, 736, [427, 451, 475], 13.2),
        (GENOTYPE_D1, 130, [843, 868, 892], 14.6),
        (GENOTYPE_D2, 641, [843, 868, 892], 14.6),
        (GENOTYPE_D3, 1143, [843, 868, 892], 14.6),
    ]:
        for line, y in zip(lines, y_px):
            fig.text(x_px / FIG_W, 1 - y / FIG_H, line, family="Liberation Mono",
                     fontsize=size, ha="left", va="center", color="#1a1a1a")

    for letter, x_px, y_px in [("a", 0, 4), ("b", 684, 1), ("c", 0, 417), ("d", 0, 825)]:
        fig.text(x_px / FIG_W, 1 - y_px / FIG_H, letter, fontsize=19, fontweight="bold",
                 ha="left", va="top")

    # lay out the swarms with the compact sizes, then freeze them and show full-size dots
    fig.canvas.draw()
    for coll in dense_swarms:
        coll.__dict__.pop("draw", None)
        coll.set_sizes([5.4 ** 2])

    fig.savefig("out.png", dpi=100)
    plt.close(fig)


if __name__ == "__main__":
    main()
